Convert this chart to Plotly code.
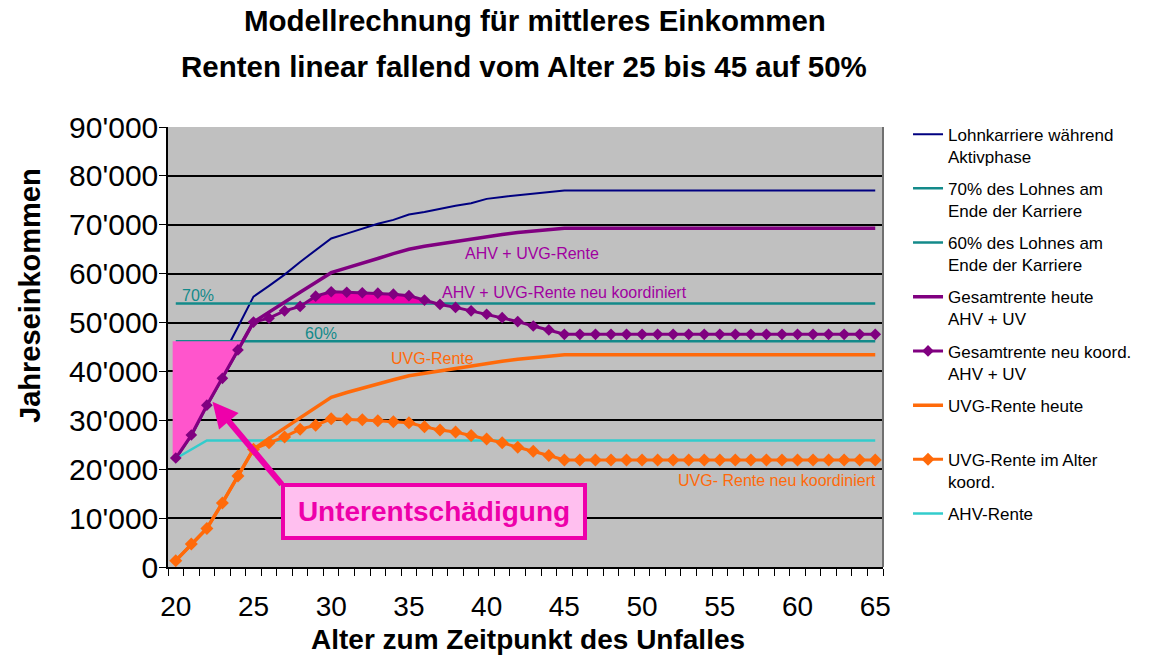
import numpy as np
import plotly.graph_objects as go

# ---------------- data ----------------
ages = list(range(20, 66))

lohnkarriere = [34000, 37000, 40000, 43000, 49100, 55300, 57500, 59800, 62400, 64800,
                67200, 68200, 69200, 70200, 71000, 72100, 72600, 73300, 73900, 74400,
                75300, 75700, 76000, 76300, 76600, 77000, 77000, 77000, 77000, 77000,
                77000, 77000, 77000, 77000, 77000, 77000, 77000, 77000, 77000, 77000,
                77000, 77000, 77000, 77000, 77000, 77000]

lohn70 = [53900, 53900, 53900, 53900, 53900, 53900, 53900, 53900, 53900, 53900,
          53900, 53900, 53900, 53900, 53900, 53900, 53900, 53900, 53900, 53900,
          53900, 53900, 53900, 53900, 53900, 53900, 53900, 53900, 53900, 53900,
          53900, 53900, 53900, 53900, 53900, 53900, 53900, 53900, 53900, 53900,
          53900, 53900, 53900, 53900, 53900, 53900]

lohn60 = [46200, 46200, 46200, 46200, 46200, 46200, 46200, 46200, 46200, 46200,
          46200, 46200, 46200, 46200, 46200, 46200, 46200, 46200, 46200, 46200,
          46200, 46200, 46200, 46200, 46200, 46200, 46200, 46200, 46200, 46200,
          46200, 46200, 46200, 46200, 46200, 46200, 46200, 46200, 46200, 46200,
          46200, 46200, 46200, 46200, 46200, 46200]

gesamt_heute = [22300, 27000, 33100, 38600, 44400, 50100, 52200, 54200, 56200, 58200,
                60200, 61200, 62100, 63100, 64100, 65000, 65600, 66100, 66600, 67100,
                67600, 68000, 68400, 68700, 69000, 69300, 69300, 69300, 69300, 69300,
                69300, 69300, 69300, 69300, 69300, 69300, 69300, 69300, 69300, 69300,
                69300, 69300, 69300, 69300, 69300, 69300]

gesamt_neu = [22300, 27000, 33100, 38600, 44400, 50100, 50900, 52400, 53300, 55400,
              56300, 56200, 56100, 56000, 55800, 55500, 54600, 53700, 53100, 52400,
              51700, 51000, 50200, 49300, 48500, 47600, 47600, 47600, 47600, 47600,
              47600, 47600, 47600, 47600, 47600, 47600, 47600, 47600, 47600, 47600,
              47600, 47600, 47600, 47600, 47600, 47600]

uvg_heute = [1300, 4700, 7900, 13100, 18600, 24100, 26300, 28400, 30500, 32600,
             34700, 35700, 36600, 37400, 38300, 39100, 39600, 40100, 40700, 41200,
             41700, 42100, 42500, 42800, 43100, 43400, 43400, 43400, 43400, 43400,
             43400, 43400, 43400, 43400, 43400, 43400, 43400, 43400, 43400, 43400,
             43400, 43400, 43400, 43400, 43400, 43400]

uvg_neu = [1300, 4700, 7900, 13100, 18600, 24100, 25400, 26600, 28200, 29000,
           30300, 30200, 30100, 29900, 29700, 29500, 28700, 28000, 27600, 26900,
           26200, 25400, 24500, 23700, 22800, 21900, 21900, 21900, 21900, 21900,
           21900, 21900, 21900, 21900, 21900, 21900, 21900, 21900, 21900, 21900,
           21900, 21900, 21900, 21900, 21900, 21900]

ahv = [22200, 24000, 25900, 25900, 25900, 25900, 25900, 25900, 25900, 25900,
       25900, 25900, 25900, 25900, 25900, 25900, 25900, 25900, 25900, 25900,
       25900, 25900, 25900, 25900, 25900, 25900, 25900, 25900, 25900, 25900,
       25900, 25900, 25900, 25900, 25900, 25900, 25900, 25900, 25900, 25900,
       25900, 25900, 25900, 25900, 25900, 25900]

y_tickvals = [0, 10000, 20000, 30000, 40000, 50000, 60000, 70000, 80000, 90000]
y_ticktext = ["0", "10'000", "20'000", "30'000", "40'000", "50'000", "60'000",
              "70'000", "80'000", "90'000"]
x_tickvals = [20, 25, 30, 35, 40, 45, 50, 55, 60, 65]
x_ticktext = ["20", "25", "30", "35", "40", "45", "50", "55", "60", "65"]

legend_names = [
    "Lohnkarriere während<br>Aktivphase",
    "70% des Lohnes am<br>Ende der Karriere",
    "60% des Lohnes am<br>Ende der Karriere",
    "Gesamtrente heute<br>AHV + UV",
    "Gesamtrente neu koord.<br>AHV + UV",
    "UVG-Rente heute<br>\u00a0",
    "UVG-Rente im Alter<br>koord.",
    "AHV-Rente",
]

# ---------------- styles ----------------
FONT = "Arial, 'Liberation Sans', sans-serif"
NAVY = "#000080"
TEAL = "#138A8A"
PURPLE = "#800080"
PURPLE_TXT = "#A000A0"
ORANGE = "#FF6A0A"
CYAN = "#33CCCC"
PINK = "#FF55CC"
MAGENTA = "#EE00AA"

ages_a = np.array(ages, dtype=float)
gn = np.array(gesamt_neu, dtype=float)

# under-compensation area: between 60% line and new total, left of crossing
p60 = lohn60[0]
i = int(np.argmax(gn >= p60))
x_cross60 = ages_a[i - 1] + (p60 - gn[i - 1]) / (gn[i] - gn[i - 1])
left = ages_a[0] - 0.2
under_x = [left, x_cross60] + list(ages_a[:i][::-1]) + [left]
under_y = [p60, p60] + list(gn[:i][::-1]) + [gn[0]]

# over-compensation area: new total above the 70% line
p70 = lohn70[0]
above = np.where(gn > p70)[0]
a0, a1 = above[0], above[-1]
xs = ages_a[a0 - 1] + (p70 - gn[a0 - 1]) / (gn[a0] - gn[a0 - 1])
xe = ages_a[a1] + (p70 - gn[a1]) / (gn[a1 + 1] - gn[a1])
over_x = [xs] + list(ages_a[a0:a1 + 1]) + [xe, xs]
over_y = [p70] + list(gn[a0:a1 + 1]) + [p70, p70]

fig = go.Figure()

def add_line(y, name, color, width, rank, markers=False, msize=9):
    fig.add_trace(go.Scatter(
        x=ages, y=y, name=name, legendrank=rank, legendgroup=name,
        mode="lines+markers" if markers else "lines",
        line=dict(color=color, width=width),
        marker=dict(symbol="diamond", size=msize, color=color) if markers else None,
    ))

add_line(lohnkarriere, legend_names[0], NAVY, 2, 1)
add_line(lohn70, legend_names[1], TEAL, 2.5, 2)
add_line(lohn60, legend_names[2], TEAL, 2.5, 3)
add_line(gesamt_heute, legend_names[3], PURPLE, 3.5, 4)

fig.add_trace(go.Scatter(x=under_x, y=under_y, mode="lines", fill="toself",
                         fillcolor=PINK, line=dict(width=0, color=PINK),
                         showlegend=False, hoverinfo="skip"))
fig.add_trace(go.Scatter(x=over_x, y=over_y, mode="lines", fill="toself",
                         fillcolor=MAGENTA, line=dict(width=0, color=MAGENTA),
                         showlegend=False, hoverinfo="skip"))

add_line(ahv, legend_names[7], CYAN, 2.5, 8)
add_line(gesamt_neu, legend_names[4], PURPLE, 3, 5, markers=True, msize=9)
add_line(uvg_heute, legend_names[5], ORANGE, 3.5, 6)
add_line(uvg_neu, legend_names[6], ORANGE, 3, 7, markers=True, msize=10)

# ---------------- annotations ----------------
def px_x(p):
    return (p - 168) / 715

def px_y(p):
    return (567 - p) / 440

ann = []
ann.append(dict(x=20.3, y=p70, text="70%", showarrow=False, xanchor="left",
                yanchor="bottom", yshift=-3, font=dict(family=FONT, size=16, color=TEAL)))
ann.append(dict(x=28.2, y=p60, text="60%", showarrow=False, xanchor="left",
                yanchor="bottom", yshift=-3, font=dict(family=FONT, size=16, color=TEAL)))
ann.append(dict(x=38.5, y=64200, text="AHV + UVG-Rente", showarrow=False,
                xanchor="left", yanchor="middle",
                font=dict(family=FONT, size=16, color=PURPLE_TXT)))
ann.append(dict(x=37.0, y=56200, text="AHV + UVG-Rente neu koordiniert", showarrow=False,
                xanchor="left", yanchor="middle",
                font=dict(family=FONT, size=16, color=PURPLE_TXT)))
ann.append(dict(x=33.7, y=42700, text="UVG-Rente", showarrow=False,
                xanchor="left", yanchor="middle",
                font=dict(family=FONT, size=16, color=ORANGE)))
ann.append(dict(x=65.2, y=17600, text="UVG- Rente neu koordiniert", showarrow=False,
                xanchor="right", yanchor="middle",
                font=dict(family=FONT, size=16, color=ORANGE)))
# arrow
ann.append(dict(x=22.36, y=33800, ax=26.9, ay=16600, axref="x", ayref="y",
                text="", showarrow=True, arrowhead=2, arrowsize=0.85,
                arrowwidth=6, arrowcolor=MAGENTA, standoff=0))
# label box
ann.append(dict(x=36.6, y=11350, text="<b>Unterentschädigung</b>", showarrow=False,
                xanchor="center", yanchor="middle", width=296, height=47,
                bgcolor="#FFBFEF", bordercolor=MAGENTA, borderwidth=4,
                font=dict(family=FONT, size=28, color=MAGENTA)))
# titles
ann.append(dict(xref="paper", yref="paper", x=px_x(535), y=px_y(20), showarrow=False,
                text="<b>Modellrechnung für mittleres Einkommen</b>",
                xanchor="center", yanchor="middle",
                font=dict(family=FONT, size=29.5, color="black")))
ann.append(dict(xref="paper", yref="paper", x=px_x(524), y=px_y(67), showarrow=False,
                text="<b>Renten linear fallend vom Alter 25 bis 45 auf 50%</b>",
                xanchor="center", yanchor="middle",
                font=dict(family=FONT, size=29.5, color="black")))
# axis titles
ann.append(dict(xref="paper", yref="paper", x=px_x(30), y=px_y(296),
                showarrow=False, textangle=-90, xanchor="center", yanchor="middle",
                text="<b>Jahreseinkommen</b>",
                font=dict(family=FONT, size=29, color="black")))
ann.append(dict(xref="paper", yref="paper", x=px_x(528), y=px_y(639),
                showarrow=False, xanchor="center", yanchor="middle",
                text="<b>Alter zum Zeitpunkt des Unfalles</b>",
                font=dict(family=FONT, size=28, color="black")))

fig.update_layout(
    width=1156, height=657,
    margin=dict(l=168, r=273, t=127, b=90, autoexpand=False),
    paper_bgcolor="white", plot_bgcolor="#C0C0C0",
    font=dict(family=FONT, color="black"),
    annotations=ann,
    showlegend=True,
    legend=dict(x=1.035, y=1.0236, xanchor="left", yanchor="top",
                font=dict(family=FONT, size=17, color="black"),
                traceorder="grouped", tracegroupgap=7, valign="top",
                itemwidth=30, bgcolor="rgba(0,0,0,0)", maxheight=620),
    shapes=[dict(type="line", xref="paper", yref="paper", x0=1, x1=1, y0=0, y1=1,
                 line=dict(color="#707070", width=2))],
)

fig.update_xaxes(
    range=[19.5, 65.5], tickmode="array", tickvals=x_tickvals, ticktext=x_ticktext,
    ticks="", showgrid=False, zeroline=False, automargin=False,
    showline=True, linecolor="black", linewidth=1.5,
    minor=dict(tickmode="linear", tick0=19.5, dtick=1, ticks="outside",
               ticklen=7, tickcolor="black", tickwidth=1, showgrid=False),
    tickfont=dict(family=FONT, size=28, color="black"),
    ticklabelstandoff=14,
)
fig.update_yaxes(
    range=[0, 90000], tickmode="array", tickvals=y_tickvals, ticktext=y_ticktext,
    ticks="outside", ticklen=7, tickcolor="black", tickwidth=1,
    showgrid=True, gridcolor="black", gridwidth=2, zeroline=False, automargin=False,
    showline=True, linecolor="black", linewidth=1.5,
    tickfont=dict(family=FONT, size=30, color="black"),
    ticklabelstandoff=-5,
)

fig.write_html("out.html", config={"displayModeBar": False},
               post_script="document.body.style.margin='0';document.body.style.overflow='hidden';")
